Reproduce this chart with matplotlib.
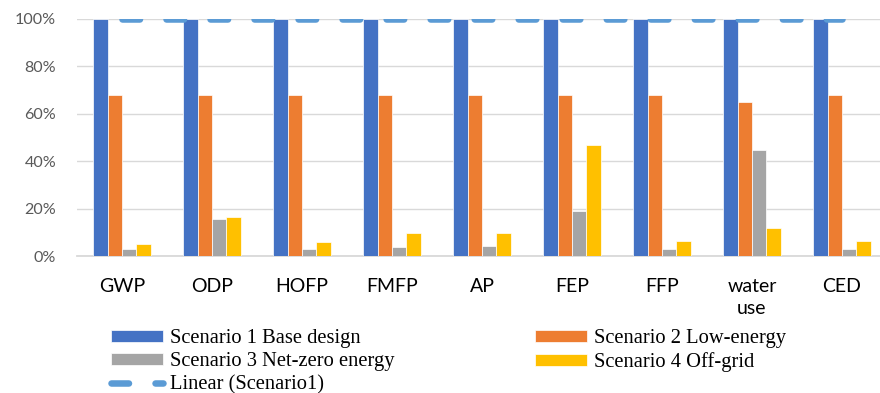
import matplotlib
matplotlib.use("Agg")
import matplotlib.pyplot as plt
import numpy as np
from matplotlib.ticker import PercentFormatter

plt.rcParams["lines.scale_dashes"] = False

categories = ["GWP", "ODP", "HOFP", "FMFP", "AP", "FEP", "FFP", "water\nuse", "CED"]
scenario1 = [100, 100, 100, 100, 100, 100, 100, 100, 100]
scenario2 = [68, 68, 68, 68, 68, 68, 68, 65, 68]
scenario3 = [2.8, 15.7, 3.0, 4.0, 4.1, 18.8, 2.8, 44.8, 2.9]
scenario4 = [5.2, 16.6, 5.8, 9.5, 9.9, 46.8, 6.4, 12.0, 6.5]
series_names = ["Scenario 1 Base design", "Scenario 2 Low-energy",
                "Scenario 3 Net-zero energy", "Scenario 4 Off-grid"]
trend_name = "Linear (Scenario1)"

colors = ["#4472C4", "#ED7D31", "#A5A5A5", "#FFC000"]
trend_color = "#5B9BD5"

fig = plt.figure(figsize=(8.8, 3.93), dpi=100)
ax = fig.add_axes([77 / 880, (393 - 256) / 393, 810 / 880, (256 - 19) / 393])

x = np.arange(len(categories))
width = 0.161
bars = []
for i, (vals, col, name) in enumerate(zip([scenario1, scenario2, scenario3, scenario4],
                                          colors, series_names)):
    offs = (i - 1.5) * width
    b = ax.bar(x + offs, vals, width, color=col, edgecolor="white",
               linewidth=0.5, label=name, zorder=2)
    bars.append(b)

# linear trend fitted through scenario 1
coef = np.polyfit(x, scenario1, 1)
trend = np.polyval(coef, x)
(tline,) = ax.plot(x, trend, color=trend_color, linewidth=4.7,
                   dash_capstyle="round", zorder=3, label=trend_name)
tline.set_dashes((12.6, 19.1))

ax.set_xlim(-0.5, len(categories) - 0.5)
ax.set_ylim(0, 100)
ax.set_yticks(np.arange(0, 101, 20))
ax.yaxis.set_major_formatter(PercentFormatter(decimals=0))
ax.set_xticks(x)
ax.set_xticklabels(categories)

ax.grid(axis="y", color="#D9D9D9", linewidth=1.0, zorder=0)
ax.set_axisbelow(True)
for s in ["top", "right", "left"]:
    ax.spines[s].set_visible(False)
ax.spines["bottom"].set_color("#D9D9D9")
ax.spines["bottom"].set_linewidth(1.3)
ax.spines["bottom"].set_zorder(1)

ax.tick_params(axis="y", length=0, pad=15, labelsize=11.6, labelcolor="#595959")
ax.tick_params(axis="x", length=0, pad=16, labelsize=14, labelcolor="black")
for lbl in ax.get_yticklabels():
    lbl.set_fontfamily("Lato")
for lbl in ax.get_xticklabels():
    lbl.set_fontfamily("Lato")
    lbl.set_linespacing(1.35)

handles = [bars[0], bars[2], tline, bars[1], bars[3]]
labels = [series_names[0], series_names[2], trend_name, series_names[1], series_names[3]]
leg = fig.legend(handles, labels, ncol=2, loc="upper left",
                 bbox_to_anchor=(111 / 880, 1 - 329 / 393),
                 frameon=False, prop={"family": "Liberation Serif", "size": 14.8},
                 handlelength=2.53, handleheight=0.5, handletextpad=0.34,
                 labelspacing=0.2, columnspacing=6.85, borderpad=0, borderaxespad=0)

fig.savefig("out.png", dpi=100)
